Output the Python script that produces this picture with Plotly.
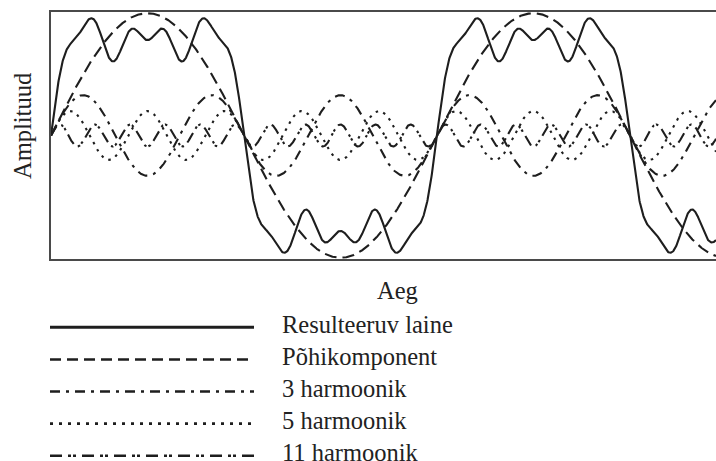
import numpy as np
import plotly.graph_objects as go

# ---- data ----
HARMONIC_ORDER = [1, 3, 5, 11]              # harmonic number of each component
AMPLITUDE = [1.0, 0.33, 0.20, 0.09]          # relative amplitude of each component
COMPONENT_NAMES = ["Põhikomponent", "3 harmoonik", "5 harmoonik", "11 harmoonik"]
RESULT_NAME = "Resulteeruv laine"
TIME_END = 1.723                             # number of fundamental periods shown
N_SAMPLES = 2000
X_TITLE = "Aeg"
Y_TITLE = "Amplituud"

# ---- styles ----
W, H = 716, 461
INK = "#1e1e1e"
FONT = dict(family="Liberation Serif, Times New Roman, serif", size=24.5, color="#222222")
PLOT_DASH = ["12px,6px", "10px,6px,3px,6px", "2.5px,5.5px", "11px,5px,2.5px,2px,2.5px,5px"]
LEG_DASH = ["solid", "11px,6px", "10px,6px,3px,6px", "3px,6px", "12px,6px,3px,2px,3px,6px"]

# plot area pixels
PL, PT, PB = 51, 12, 259
# legend rows pixels
LX0, LX1 = 50, 254
LY_TOP, ROW_STEP = 311, 32.1
TEXT_X = 280

t = np.linspace(0, TIME_END, N_SAMPLES)
components = [a * np.sin(2 * np.pi * n * t) for n, a in zip(HARMONIC_ORDER, AMPLITUDE)]
result = np.sum(components, axis=0)

fig = go.Figure()
fig.add_trace(go.Scatter(x=t, y=result, mode="lines", name=RESULT_NAME,
                         line=dict(color=INK, width=2.1), showlegend=False))
for comp, name, dash in zip(components, COMPONENT_NAMES, PLOT_DASH):
    fig.add_trace(go.Scatter(x=t, y=comp, mode="lines", name=name,
                             line=dict(color=INK, width=2.1, dash=dash), showlegend=False))

# custom legend on a second pair of axes
legend_names = [RESULT_NAME] + COMPONENT_NAMES
for i, (name, dash) in enumerate(zip(legend_names, LEG_DASH)):
    fig.add_trace(go.Scatter(x=[0, 1], y=[i, i], mode="lines", xaxis="x2", yaxis="y2",
                             line=dict(color=INK, width=3 if i == 0 else 2.6, dash=dash),
                             showlegend=False, hoverinfo="skip"))
    fig.add_annotation(x=TEXT_X / W, y=i - 0.09, xref="paper", yref="y2",
                       text=name, showarrow=False, xanchor="left", yanchor="middle",
                       font=FONT)

y2_bottom = (H - LY_TOP) / ROW_STEP - 0.51
fig.update_layout(
    width=W, height=H,
    margin=dict(l=0, r=0, t=0, b=0),
    paper_bgcolor="white", plot_bgcolor="white",
    showlegend=False,
    xaxis=dict(domain=[PL / W, 1], range=[0, TIME_END], showline=True, mirror=True,
               linecolor="#4a4a4a", linewidth=1.6, showticklabels=False, ticks="",
               showgrid=False, zeroline=False),
    yaxis=dict(domain=[1 - PB / H, 1 - PT / H], range=[-1.01, 1.01], showline=True,
               mirror=False, linecolor="#4a4a4a", linewidth=1.6, showticklabels=False,
               ticks="", showgrid=False, zeroline=False),
    xaxis2=dict(domain=[LX0 / W, LX1 / W], range=[0, 1], visible=False, anchor="y2"),
    yaxis2=dict(domain=[0, (H - LY_TOP) / H], range=[y2_bottom, -0.51], visible=False,
                anchor="x2"),
)
fig.add_annotation(x=397 / W, y=1 - 290 / H, xref="paper", yref="paper", text=X_TITLE,
                   showarrow=False, xanchor="center", yanchor="middle", font=FONT)
fig.add_annotation(x=22 / W, y=1 - 126 / H, xref="paper", yref="paper", text=Y_TITLE,
                   showarrow=False, xanchor="center", yanchor="middle", textangle=-90,
                   font=FONT)

fig.write_html("out.html")
